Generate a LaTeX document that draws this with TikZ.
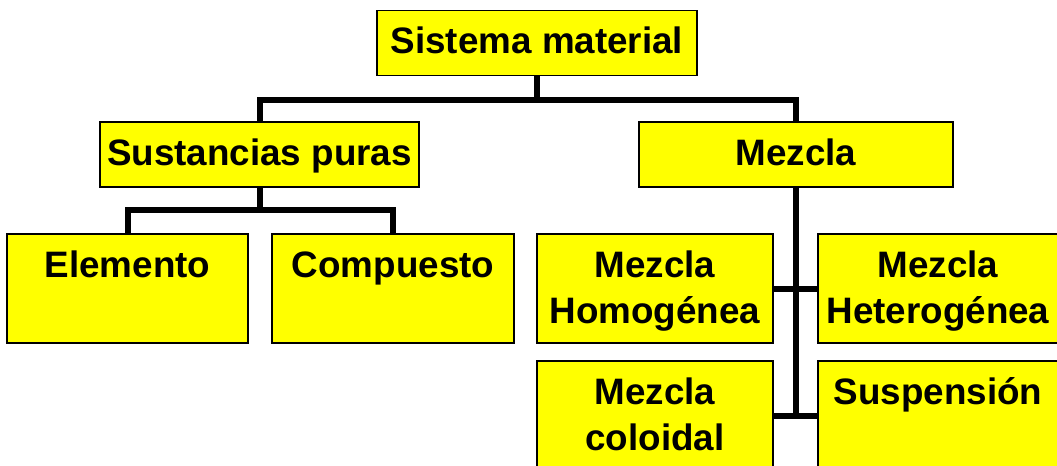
\documentclass[tikz,border=0pt]{standalone}
\usepackage{fontspec}
\setmainfont{Liberation Sans}
\usepackage{tikz}
\definecolor{box-yellow}{HTML}{FFFF00}
\newcommand{\hstrut}{\rule{0pt}{19pt}}

\begin{document}
\begin{tikzpicture}[x=0.5pt, y=-0.5pt,
    box/.style={draw=black, line width=0.75pt, fill=box-yellow, inner sep=2pt,
        font=\fontsize{18.4}{23}\selectfont\bfseries},
    head/.style={box, minimum height=32.5pt, text height=13pt, text depth=2pt},
    leaf/.style={box, minimum width=118pt, minimum height=54.5pt, align=center},
    branch/.style={line width=3pt}]
    \useasboundingbox (0,0) rectangle (1057,466);
    \clip (0,0) rectangle (1057,466);

    % Top levels
    \node[head, minimum width=160pt] (sistema) at (537,43) {Sistema material};
    \node[head, minimum width=159.5pt] (sustancias) at (259.5,154.5) {Sustancias puras};
    \node[head, minimum width=157pt] (mezcla) at (796,154.5) {Mezcla};

    % Leaves
    \node[leaf, minimum width=120.5pt] (elemento) at (127.5,288.5) {\hstrut Elemento\\\strut};
    \node[leaf, minimum width=121pt] (compuesto) at (393,288.5) {\hstrut Compuesto\\\strut};
    \node[leaf] (homogenea) at (655,288.5) {\hstrut Mezcla\\\strut Homogénea};
    \node[leaf, minimum width=127pt] (heterogenea) at (945,288.5) {\hspace*{-7pt}\hstrut Mezcla\\\hspace*{-7pt}\strut Heterogénea};
    \node[leaf] (coloidal) at (655,415.5) {\hstrut Mezcla\\\strut coloidal};
    \node[leaf, minimum width=127pt] (suspension) at (945,415.5) {\hspace*{-7pt}\hstrut Suspensión\\\strut};

    % Connectors
    \draw[branch] (sistema.south) -- (sistema.south |- 0,100);
    \draw[branch] (sustancias.north) |- (mezcla.north |- 0,100) -- (mezcla.north);
    \draw[branch] (sustancias.south) -- (sustancias.south |- 0,210);
    \draw[branch] (elemento.north) |- (compuesto.north |- 0,210) -- (compuesto.north);
    \draw[branch] (mezcla.south) -- (mezcla.south |- coloidal.east);
    \draw[branch] (homogenea.east) -- (heterogenea.west);
    \draw[branch] (coloidal.east) -- (suspension.west);
\end{tikzpicture}
\end{document}
